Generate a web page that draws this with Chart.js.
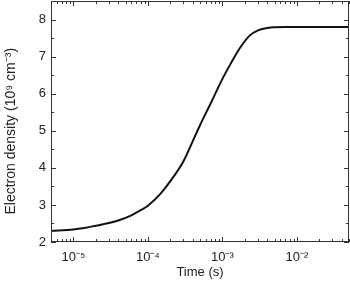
<!DOCTYPE html>
<html>
<head>
<meta charset="utf-8">
<script src="https://cdn.jsdelivr.net/npm/chart.js@4.4.1/dist/chart.umd.min.js"></script>
<style>
  html, body { margin: 0; padding: 0; background: #fff; }
  #wrap { width: 350px; height: 281px; }
</style>
</head>
<body>
<div id="wrap"><canvas id="canvas"></canvas></div>
<script>
// values
var times = [5e-6, 1e-5, 1.4e-5, 2e-5, 3e-5, 4e-5, 6e-5, 8e-5, 1e-4, 1.5e-4, 2e-4, 3e-4, 4e-4, 5e-4, 7e-4, 1e-3, 1.3e-3, 1.7e-3, 2.3e-3, 3e-3, 4e-3, 5e-3, 7e-3, 1e-2, 5e-2];
var density = [2.30, 2.34, 2.38, 2.44, 2.51, 2.58, 2.72, 2.86, 2.98, 3.32, 3.64, 4.18, 4.72, 5.15, 5.75, 6.40, 6.82, 7.22, 7.56, 7.71, 7.77, 7.79, 7.80, 7.80, 7.80];
var xTicks = [1e-5, 1e-4, 1e-3, 1e-2];
var yTicks = [2, 3, 4, 5, 6, 7, 8];

var sup = { "-": "\u207B", "0": "\u2070", "1": "\u00B9", "2": "\u00B2", "3": "\u00B3", "4": "\u2074", "5": "\u2075", "6": "\u2076", "7": "\u2077", "8": "\u2078", "9": "\u2079" };
function powLabel(v) {
    var e = String(Math.round(Math.log10(v)));
    return "10" + e.split("").map(c => sup[c]).join("");
}

// frame + inward ticks
const frameTicks = {
    id: "frameTicks",
    afterDraw(chart) {
        const ctx = chart.ctx;
        const a = chart.chartArea;
        const xs = chart.scales.x, ys = chart.scales.y;
        ctx.save();
        ctx.strokeStyle = "#333";
        ctx.lineWidth = 1;
        ctx.strokeRect(a.left + 0.5, a.top + 0.5, a.right - a.left - 1, a.bottom - a.top - 1);
        ctx.beginPath();
        for (let d = -6; d <= -1; d++) {
            for (let k = 1; k <= 9; k++) {
                const v = k * Math.pow(10, d);
                if (v < xs.min || v > xs.max) continue;
                const px = Math.round(xs.getPixelForValue(v)) + 0.5;
                const len = k == 1 ? 5 : 3;
                ctx.moveTo(px, a.bottom);
                ctx.lineTo(px, a.bottom - len);
                ctx.moveTo(px, a.top);
                ctx.lineTo(px, a.top + len);
            }
        }
        for (let v = 2; v <= 8.5; v += 0.5) {
            const py = Math.round(ys.getPixelForValue(v)) + 0.5;
            const len = v % 1 == 0 ? 5 : 3;
            ctx.moveTo(a.left, py);
            ctx.lineTo(a.left + len, py);
            ctx.moveTo(a.right, py);
            ctx.lineTo(a.right - len, py);
        }
        ctx.stroke();
        ctx.restore();
    }
};

const font = { family: "'Liberation Sans', Arial, sans-serif", size: 13 };
const points = times.map((t, i) => ({ x: t, y: density[i] }));

const config = {
    type: "scatter",
    data: {
        datasets: [{
            data: points,
            showLine: true,
            borderColor: "#111",
            borderWidth: 2,
            pointRadius: 0,
            cubicInterpolationMode: "monotone"
        }]
    },
    options: {
        responsive: false,
        animation: false,
        layout: { padding: { top: 1, right: 1, left: 0, bottom: 0 } },
        plugins: { legend: { display: false }, tooltip: { enabled: false } },
        scales: {
            x: {
                type: "logarithmic",
                min: 5e-6,
                max: 5e-2,
                grid: { display: false, drawTicks: false },
                border: { display: false },
                afterBuildTicks: s => { s.ticks = xTicks.map(v => ({ value: v })); },
                afterFit: s => { s.height = 39; s.paddingLeft = 0; s.paddingRight = 0; },
                ticks: { color: "#222", font: font, padding: 8, maxRotation: 0, autoSkip: false, callback: v => powLabel(v) },
                title: { display: true, text: "Time (s)", color: "#222", font: font, padding: { top: 0, bottom: 1 } }
            },
            y: {
                min: 2,
                max: 8.5,
                grid: { display: false, drawTicks: false },
                border: { display: false },
                afterBuildTicks: s => { s.ticks = yTicks.map(v => ({ value: v })); },
                afterFit: s => { s.width = 51; s.paddingTop = 0; s.paddingBottom = 0; },
                ticks: { color: "#222", font: font, padding: 5 },
                // trailing spaces push the visible text down a little, like the reference
                title: { display: true, text: "Electron density (10\u2079 cm\u207B\u00B3)\u00A0\u00A0\u00A0\u00A0\u00A0", color: "#222", font: { family: font.family, size: 14 }, padding: { top: 3, bottom: 0 } }
            }
        }
    },
    plugins: [frameTicks]
};

const canvas = document.getElementById("canvas");
canvas.width = 350;
canvas.height = 281;
const chart = new Chart(canvas.getContext("2d"), config);
</script>
</body>
</html>
